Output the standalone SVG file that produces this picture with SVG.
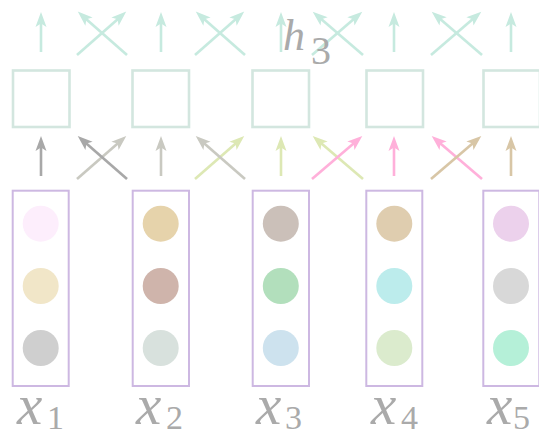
<svg xmlns="http://www.w3.org/2000/svg" width="539" height="436" viewBox="0 0 539 436">
<style>
.sq{fill:none;stroke:#d3e6df;stroke-width:2.6}
.bx{fill:#fff;stroke:#cdb8e2;stroke-width:2}
.ar{fill:none;stroke-width:2.6}
.lab{font-family:"Liberation Serif","Times New Roman",serif;font-style:italic;fill:#aaaaaa}
.sub{font-family:"Liberation Serif","Times New Roman",serif;fill:#aaaaaa}
</style>
<defs>
<marker id="mt" markerUnits="userSpaceOnUse" markerWidth="18" markerHeight="13" refX="10" refY="5.5" orient="auto" overflow="visible"><path d="M0,0 L15,5.5 L0,11 L3.5,5.5 z" fill="#c6eadf"/></marker>
<marker id="m1" markerUnits="userSpaceOnUse" markerWidth="18" markerHeight="13" refX="10" refY="5.5" orient="auto" overflow="visible"><path d="M0,0 L15,5.5 L0,11 L3.5,5.5 z" fill="#a8a8a8"/></marker>
<marker id="m2" markerUnits="userSpaceOnUse" markerWidth="18" markerHeight="13" refX="10" refY="5.5" orient="auto" overflow="visible"><path d="M0,0 L15,5.5 L0,11 L3.5,5.5 z" fill="#c9c9c1"/></marker>
<marker id="m3" markerUnits="userSpaceOnUse" markerWidth="18" markerHeight="13" refX="10" refY="5.5" orient="auto" overflow="visible"><path d="M0,0 L15,5.5 L0,11 L3.5,5.5 z" fill="#dde8b4"/></marker>
<marker id="m4" markerUnits="userSpaceOnUse" markerWidth="18" markerHeight="13" refX="10" refY="5.5" orient="auto" overflow="visible"><path d="M0,0 L15,5.5 L0,11 L3.5,5.5 z" fill="#ffb0da"/></marker>
<marker id="m5" markerUnits="userSpaceOnUse" markerWidth="18" markerHeight="13" refX="10" refY="5.5" orient="auto" overflow="visible"><path d="M0,0 L15,5.5 L0,11 L3.5,5.5 z" fill="#d8c6a6"/></marker>
</defs>
<rect width="539" height="436" fill="#fff"/>

<g id="connectors">
  <g stroke="#c6eadf" class="ar" marker-end="url(#mt)">
    <path d="M41,52 V17"/>
    <path d="M161,52 V17"/>
    <path d="M281,52 V17"/>
    <path d="M394,52 V17"/>
    <path d="M511,52 V17"/>
    <path d="M77,55 L122.5,14.9"/>
    <path d="M127,55 L81.5,14.9"/>
    <path d="M195,55 L240.5,14.9"/>
    <path d="M245,55 L199.5,14.9"/>
    <path d="M312,55 L358.5,14.9"/>
    <path d="M363,55 L316.5,14.9"/>
    <path d="M431,55 L477.5,14.9"/>
    <path d="M482,55 L435.5,14.9"/>
  </g>
  <g class="ar">
    <path d="M41,176 V141" stroke="#a8a8a8" marker-end="url(#m1)"/>
    <path d="M77,179 L122.5,139.2" stroke="#c9c9c1" marker-end="url(#m2)"/>
    <path d="M127,179 L81.5,139.2" stroke="#a8a8a8" marker-end="url(#m1)"/>
    <path d="M161,176 V141" stroke="#c9c9c1" marker-end="url(#m2)"/>
    <path d="M195,179 L240.5,139.2" stroke="#dde8b4" marker-end="url(#m3)"/>
    <path d="M245,179 L199.5,139.2" stroke="#c9c9c1" marker-end="url(#m2)"/>
    <path d="M281,176 V141" stroke="#dde8b4" marker-end="url(#m3)"/>
    <path d="M363,179 L316.5,139.2" stroke="#dde8b4" marker-end="url(#m3)"/>
    <path d="M312,179 L358.5,139.2" stroke="#ffb0da" marker-end="url(#m4)"/>
    <path d="M394,176 V141" stroke="#ffb0da" marker-end="url(#m4)"/>
    <path d="M482,179 L435.5,139.2" stroke="#ffb0da" marker-end="url(#m4)"/>
    <path d="M431,179 L477.5,139.2" stroke="#d8c6a6" marker-end="url(#m5)"/>
    <path d="M511,176 V141" stroke="#d8c6a6" marker-end="url(#m5)"/>
  </g>
</g>

<g id="h1"><rect class="sq" x="13" y="70.5" width="56.5" height="56.5"/></g>
<g id="h2"><rect class="sq" x="132.5" y="70.5" width="56.5" height="56.5"/></g>
<g id="h3"><rect class="sq" x="252.5" y="70.5" width="56.5" height="56.5"/>
  <text x="283" y="50" class="lab" font-size="44">h</text><text x="311" y="64" class="sub" font-size="40">3</text></g>
<g id="h4"><rect class="sq" x="366.5" y="70.5" width="56.5" height="56.5"/></g>
<g id="h5"><rect class="sq" x="483.5" y="70.5" width="56.5" height="56.5"/></g>

<g id="x1"><rect class="bx" x="12.7" y="190.7" width="56" height="195.3"/>
  <circle cx="40.7" cy="223.7" r="18" fill="#fdeefc"/>
  <circle cx="40.7" cy="286" r="18" fill="#f1e6c8"/>
  <circle cx="40.7" cy="348" r="18" fill="#cfcfcf"/>
  <text x="17" y="424" class="lab" font-size="57">x</text><text x="47" y="429" class="sub" font-size="34">1</text></g>
<g id="x2"><rect class="bx" x="132.7" y="190.7" width="56.3" height="195.3"/>
  <circle cx="160.7" cy="223.7" r="18" fill="#e6d3ab"/>
  <circle cx="160.7" cy="286" r="18" fill="#cfb4ab"/>
  <circle cx="160.7" cy="348" r="18" fill="#d8e1dd"/>
  <text x="136" y="424" class="lab" font-size="57">x</text><text x="166" y="429" class="sub" font-size="34">2</text></g>
<g id="x3"><rect class="bx" x="252.7" y="190.7" width="56.3" height="195.3"/>
  <circle cx="280.8" cy="223.7" r="18" fill="#cbc0b9"/>
  <circle cx="280.8" cy="286" r="18" fill="#b2dfbc"/>
  <circle cx="280.8" cy="348" r="18" fill="#cde2ee"/>
  <text x="256" y="424" class="lab" font-size="57">x</text><text x="285" y="429" class="sub" font-size="34">3</text></g>
<g id="x4"><rect class="bx" x="366.3" y="190.7" width="56" height="195.3"/>
  <circle cx="394.3" cy="223.7" r="18" fill="#dfcdaf"/>
  <circle cx="394.3" cy="286" r="18" fill="#bcecec"/>
  <circle cx="394.3" cy="348" r="18" fill="#dbebcd"/>
  <text x="371" y="424" class="lab" font-size="57">x</text><text x="401" y="429" class="sub" font-size="34">4</text></g>
<g id="x5"><rect class="bx" x="483.3" y="190.7" width="56" height="195.3"/>
  <circle cx="511" cy="223.7" r="18" fill="#ecd1ec"/>
  <circle cx="511" cy="286" r="18" fill="#d8d8d8"/>
  <circle cx="511" cy="348" r="18" fill="#b5f0d8"/>
  <text x="487" y="424" class="lab" font-size="57">x</text><text x="513" y="429" class="sub" font-size="34">5</text></g>
</svg>
